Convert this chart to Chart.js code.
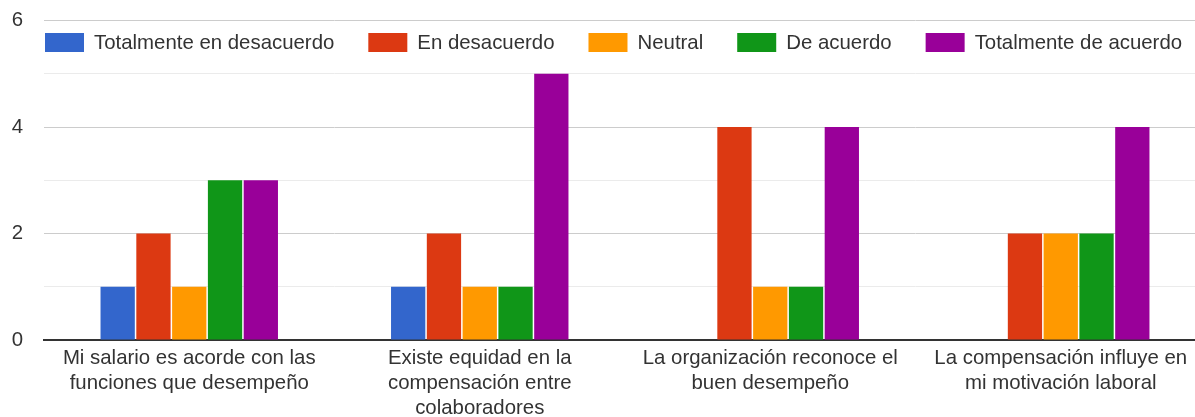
<!DOCTYPE html>
<html>
<head>
<meta charset="utf-8">
<script src="https://cdn.jsdelivr.net/npm/chart.js@4/dist/chart.umd.min.js"></script>
<style>
  html, body { margin: 0; padding: 0; background: #fff; overflow: hidden; }
  #wrap { position: relative; width: 1195px; height: 417px; overflow: hidden; }
  canvas { display: block; }
</style>
</head>
<body>
<div id="wrap"><canvas id="c" width="1206" height="417"></canvas></div>
<script>
// Survey statements (x axis), one array of lines per label
const categories = [
  ['Mi salario es acorde con las', 'funciones que desempeño'],
  ['Existe equidad en la', 'compensación entre', 'colaboradores'],
  ['La organización reconoce el', 'buen desempeño'],
  ['La compensación influye en', 'mi motivación laboral']
];

// Answer options
const seriesNames = [
  'Totalmente en desacuerdo',
  'En desacuerdo',
  'Neutral',
  'De acuerdo',
  'Totalmente de acuerdo'
];

// Number of responses per answer option
const totalDesacuerdo = [1, 1, 0, 0];
const enDesacuerdo    = [2, 2, 4, 2];
const neutral         = [1, 1, 1, 2];
const deAcuerdo       = [3, 1, 1, 2];
const totalAcuerdo    = [3, 5, 4, 4];

// Labelled y values
const yTickLabels = [0, 2, 4, 6];

const seriesColors = ['#3366cc', '#dc3912', '#ff9900', '#109618', '#990099'];
const seriesValues = [totalDesacuerdo, enDesacuerdo, neutral, deAcuerdo, totalAcuerdo];

const FONT = '"Liberation Sans", Arial, sans-serif';
const FONT_SIZE = 20.4;
const TEXT = '#333333';

// Horizontal legend drawn inside the plot, below the top gridline
const insideLegend = {
  id: 'insideLegend',
  afterDraw(chart) {
    const ctx = chart.ctx;
    const area = chart.chartArea;
    const boxW = 39, boxH = 19, textGap = 10, itemGap = 34;
    const cy = area.top + 22;
    let x = area.left + 1;
    ctx.save();
    ctx.font = FONT_SIZE + 'px ' + FONT;
    ctx.textBaseline = 'middle';
    ctx.textAlign = 'left';
    chart.data.datasets.forEach(ds => {
      ctx.fillStyle = ds.backgroundColor;
      ctx.fillRect(x, cy - boxH / 2, boxW, boxH);
      x += boxW + textGap;
      ctx.fillStyle = TEXT;
      ctx.fillText(ds.label, x, cy + 1);
      x += ctx.measureText(ds.label).width + itemGap;
    });
    ctx.restore();
  }
};

new Chart(document.getElementById('c'), {
  type: 'bar',
  data: {
    labels: categories,
    datasets: seriesNames.map((name, i) => ({
      label: name,
      data: seriesValues[i],
      backgroundColor: seriesColors[i],
      borderWidth: 0,
      categoryPercentage: 0.616,
      barPercentage: 0.958
    }))
  },
  options: {
    responsive: false,
    animation: false,
    layout: { padding: { top: 20.5, right: 0, left: 0, bottom: 0 } },
    plugins: {
      legend: { display: false },
      tooltip: { enabled: false }
    },
    scales: {
      x: {
        grid: { display: false, drawTicks: false },
        border: { display: true, color: '#333333', width: 2 },
        ticks: {
          color: TEXT,
          font: { family: FONT, size: FONT_SIZE, lineHeight: 1.23 },
          padding: 6,
          maxRotation: 0,
          minRotation: 0,
          autoSkip: false
        },
        afterFit(scale) {
          scale.height = 77;
          scale.paddingLeft = 0;
          scale.paddingRight = 0;
        }
      },
      y: {
        min: 0,
        max: 6,
        border: { display: false },
        grid: {
          drawTicks: false,
          color: c => (yTickLabels.includes(c.tick.value) ? '#cccccc' : '#ebebeb'),
          lineWidth: 1
        },
        ticks: {
          stepSize: 1,
          color: TEXT,
          font: { family: FONT, size: FONT_SIZE },
          padding: 21,
          callback: v => (yTickLabels.includes(v) ? String(v) : '')
        },
        afterFit(scale) {
          scale.width = 44;
          scale.paddingTop = 0;
          scale.paddingBottom = 0;
        }
      }
    }
  },
  plugins: [insideLegend]
});
</script>
</body>
</html>
